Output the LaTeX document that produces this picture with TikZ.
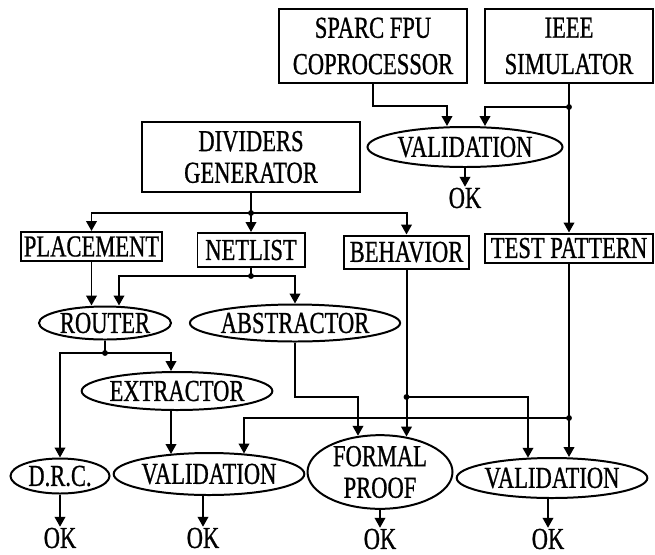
\documentclass[tikz,border=0pt]{standalone}
\usepackage{fontspec}
\setmainfont[FakeStretch=0.74, FakeBold=0.8]{Liberation Serif}
\usepackage{tikz}
\usetikzlibrary{arrows.meta, calc, shapes.geometric}
\tikzset{
  module/.style={draw, rectangle, inner sep=0pt, align=center},
  tool/.style={draw, ellipse, inner sep=0pt, align=center},
  okmark/.style={inner sep=0pt},
  link/.style={-{Triangle[length=8.5pt,width=9pt]}},
}

\begin{document}
\begin{tikzpicture}[x=0.03cm, y=-0.03cm, line width=1.7pt,
                    font=\fontsize{26}{27}\selectfont]
  \useasboundingbox (0,0) rectangle (655,554);

  % Sources
  \node[module, minimum width=5.64cm, minimum height=2.22cm] (sparc) at (373,46)
    {SPARC FPU\\[4pt]COPROCESSOR};
  \node[module, minimum width=5.04cm, minimum height=2.22cm] (ieee) at (569,46)
    {IEEE\\[4pt]SIMULATOR};
  \node[module, minimum width=6.54cm, minimum height=2.1cm] (gen) at (251,157)
    {DIVIDERS\\GENERATOR};

  % Top validation
  \node[tool, minimum width=5.85cm, minimum height=1.2cm] (valtop) at (465,147) {VALIDATION};
  \node[okmark] (oktop) at (465,198) {OK};

  % Generator outputs
  \node[module, minimum width=4.23cm, minimum height=0.87cm] (place) at (91.5,246.5) {PLACEMENT};
  \node[module, minimum width=3.21cm, minimum height=1.02cm] (netlist) at (251,250) {NETLIST};
  \node[module, minimum width=3.75cm, minimum height=0.99cm] (behav) at (406.5,252) {BEHAVIOR};
  \node[module, minimum width=5.04cm, minimum height=0.87cm] (test) at (569,248) {TEST PATTERN};

  % Tools
  \node[tool, minimum width=3.96cm, minimum height=0.99cm] (router) at (105,323) {ROUTER};
  \node[tool, minimum width=6.27cm, minimum height=1.11cm] (abstr) at (295,323) {ABSTRACTOR};
  \node[tool, minimum width=5.52cm, minimum height=1.14cm] (extr) at (177,391) {EXTRACTOR};

  % Checks
  \node[tool, minimum width=2.97cm, minimum height=1.05cm] (drc) at (60,476) {D.R.C.};
  \node[tool, minimum width=5.64cm, minimum height=1.26cm] (valA) at (209,474) {VALIDATION};
  \node[tool, minimum width=4.35cm, minimum height=2.07cm] (formal) at (380,472) {FORMAL\\PROOF};
  \node[tool, minimum width=5.55cm, minimum height=1.2cm] (valB) at (552,478) {VALIDATION};

  \node[okmark] (ok1) at (60,538) {OK};
  \node[okmark] (ok2) at (203,538) {OK};
  \node[okmark] (ok3) at (380,539) {OK};
  \node[okmark] (ok4) at (548,539) {OK};

  % Junctions
  \coordinate (jI) at (569,107);
  \coordinate (jG) at (251,213);
  \coordinate (jN) at (251,276);
  \coordinate (jR) at (105,353);
  \coordinate (jB) at (406.5,397);
  \coordinate (jT) at (569,418);

  % Top validation wiring
  \draw[link] (sparc.south) -- ++(0,22) -| ($(valtop.north)+(-18,0)$);
  \draw (ieee.south) -- (jI);
  \draw[link] (jI) -| ($(valtop.north)+(20,0)$);
  \draw[link] (jI) -- (test.north);
  \draw[link] (valtop.south) -- (oktop.north);

  % Generator fan-out
  \draw (gen.south) -- (jG);
  \draw[link] (jG) -| (place.north);
  \draw[link] (jG) -- (netlist.north);
  \draw[link] (jG) -| (behav.north);

  % Netlist and placement
  \draw (netlist.south) -- (jN);
  \draw[link] (jN) -| ($(router.north)+(14,0)$);
  \draw[link] (jN) -| (abstr.north);
  \draw[link] (place.south) -- (place.south |- router.north);

  % Router fan-out
  \draw (router.south) -- (jR);
  \draw[link] (jR) -| (drc.north);
  \draw[link] (jR) -| ($(extr.north)+(-6,0)$);

  % Into the checks
  \draw[link] ($(extr.south)+(-6,0)$) -- ($(valA.north)+(-38,2)$);
  \draw[link] (test.south) -- ($(valB.north)+(17,0)$);
  \draw[link] (jT) -| ($(valA.north)+(35,1.5)$);
  \draw[link] (abstr.south) -- ++(0,54.5) -| ($(formal.north)+(-22,1.6)$);
  \draw[link] (behav.south) -- ($(formal.north)+(26.5,2.4)$);
  \draw[link] (jB) -| ($(valB.north)+(-24,0.7)$);

  % Results
  \draw[link] (drc.south) -- (ok1.north);
  \draw[link] (valA.south -| ok2.north) -- (ok2.north);
  \draw[link] (formal.south) -- (ok3.north);
  \draw[link] (valB.south -| ok4.north) -- (ok4.north);

  \foreach \j in {jI, jG, jN, jR, jB, jT}
    \fill (\j) circle (2.5pt);
\end{tikzpicture}
\end{document}
